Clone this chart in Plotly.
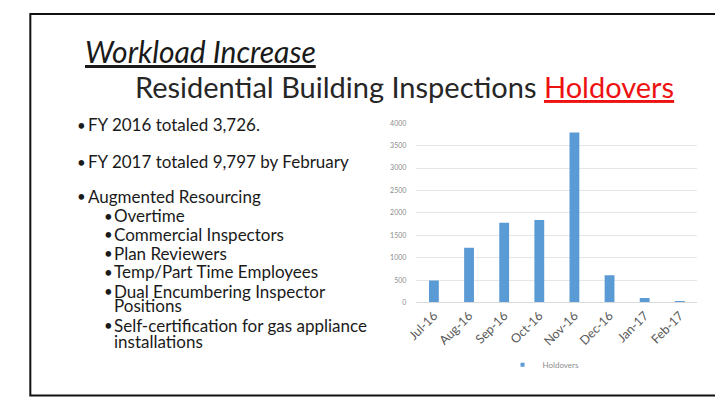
import plotly.graph_objects as go

# The page body has an 8px margin; figure is sized to fit the window.
OFF = 8
W, H = 723 - OFF, 400 - OFF

months = ["Jul-16", "Aug-16", "Sep-16", "Oct-16", "Nov-16", "Dec-16", "Jan-17", "Feb-17"]
holdovers = [490, 1220, 1780, 1840, 3790, 610, 100, 35]
y_ticks = [0, 500, 1000, 1500, 2000, 2500, 3000, 3500, 4000]

title_1 = "Workload Increase"
title_2 = "Residential Building Inspections "
title_2_red = "Holdovers"
# (lines, level, y of each line)
bullets = [
    (["FY 2016 totaled 3,726."], 0, [122]),
    (["FY 2017 totaled 9,797 by February"], 0, [160]),
    (["Augmented Resourcing"], 0, [195]),
    (["Overtime"], 1, [215]),
    (["Commercial Inspectors"], 1, [234]),
    (["Plan Reviewers"], 1, [253]),
    (["Temp/Part Time Employees"], 1, [272]),
    (["Dual Encumbering Inspector", "Positions"], 1, [292, 307]),
    (["Self-certification for gas appliance", "installations"], 1, [327, 343]),
]

FONT = "Lato"


def px(x):
    return (x - OFF) / W


def py(y):
    return 1 - (y - OFF) / H


fig = go.Figure()
fig.add_trace(go.Bar(
    x=months, y=holdovers, name="Holdovers",
    marker=dict(color="#5B9BD5", line=dict(width=0)),
    showlegend=False,
))
fig.add_trace(go.Scatter(
    x=[None], y=[None], mode="markers", name="Holdovers",
    marker=dict(color="#5B9BD5", symbol="square", size=4),
    showlegend=True,
))

annotations = []
annotations.append(dict(
    text=title_1, x=px(74), y=py(47), xref="paper", yref="paper",
    xanchor="left", yanchor="middle", showarrow=False,
    font=dict(family=FONT, size=30, color="#1a1a1a", style="italic", lineposition="under"),
))
annotations.append(dict(
    text=title_2 + '<span style="color:#ee1111;text-decoration:underline">' + title_2_red + "</span>",
    x=px(125), y=py(83), xref="paper", yref="paper",
    xanchor="left", yanchor="middle", showarrow=False,
    font=dict(family=FONT, size=29, color="#262626"),
))
for lines, lvl, ys in bullets:
    bx = 66 if lvl == 0 else 93
    tx = 77 if lvl == 0 else 103
    annotations.append(dict(
        text="•", x=px(bx), y=py(ys[0]), xref="paper", yref="paper",
        xanchor="left", yanchor="middle", showarrow=False,
        font=dict(family=FONT, size=15, color="#1a1a1a"),
    ))
    for line, yy in zip(lines, ys):
        annotations.append(dict(
            text=line, x=px(tx), y=py(yy), xref="paper", yref="paper",
            xanchor="left", yanchor="middle", showarrow=False, align="left",
            font=dict(family=FONT, size=17, color="#1a1a1a"),
        ))

fig.update_layout(
    width=W, height=H,
    margin=dict(l=0, r=0, t=0, b=0),
    paper_bgcolor="white", plot_bgcolor="white",
    bargap=0.72,
    annotations=annotations,
    shapes=[dict(type="rect", xref="paper", yref="paper",
                 x0=px(20.5), x1=px(718.5), y0=py(398.5), y1=py(9),
                 line=dict(color="#111111", width=2))],
    xaxis=dict(domain=[px(412), px(697)], tickangle=-45,
               tickfont=dict(family=FONT, size=12.5, color="#595959"),
               showgrid=False, showline=True, linecolor="#d9d9d9", linewidth=1,
               ticks=""),
    yaxis=dict(domain=[py(303.5), py(120.5)], range=[0, 4000],
               tickvals=y_ticks, ticktext=[str(v) for v in y_ticks],
               tickfont=dict(family=FONT, size=7, color="#8c8c8c"),
               showgrid=True, gridcolor="#e6e6e6", gridwidth=1,
               zeroline=False, showline=False, ticks="", ticklabelstandoff=9),
    legend=dict(orientation="h", x=px(541), y=py(367), xanchor="center", yanchor="middle",
                font=dict(family=FONT, size=8, color="#8c8c8c"),
                bgcolor="rgba(0,0,0,0)", itemwidth=30),
)

fig.write_html("out.html")
